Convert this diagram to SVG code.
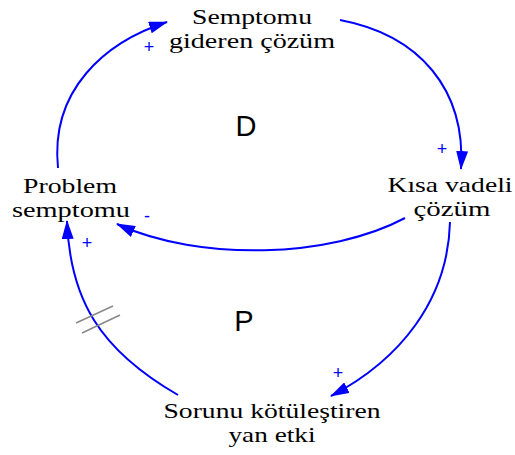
<svg xmlns="http://www.w3.org/2000/svg" width="515" height="455" viewBox="0 0 515 455">
<style>
.lbl{font-family:"Liberation Serif","Times New Roman",serif;font-size:21px;fill:#000;text-anchor:middle}
.loop{font-family:"Liberation Sans",Arial,sans-serif;font-size:29px;fill:#000;text-anchor:middle}
.pol{font-family:"Liberation Sans",Arial,sans-serif;font-size:18px;fill:#0000ff;text-anchor:middle}
.link{fill:none;stroke:#0000ff;stroke-width:2;marker-end:url(#ah)}
.delay{stroke:#888;stroke-width:1.5}
</style>
<defs>
<marker id="ah" markerWidth="20" markerHeight="12" refX="18" refY="6" orient="auto" markerUnits="userSpaceOnUse">
<path d="M0,0 L19,6 L0,12 Z" fill="#0000ff"/>
</marker>
</defs>
<rect width="515" height="455" fill="#fff"/>
<g id="n1"><text class="lbl" x="252" y="24" textLength="120" lengthAdjust="spacingAndGlyphs">Semptomu</text><text class="lbl" x="252" y="48" textLength="166" lengthAdjust="spacingAndGlyphs">gideren çözüm</text></g>
<g id="n2"><text class="lbl" x="450" y="192" textLength="125" lengthAdjust="spacingAndGlyphs">Kısa vadeli</text><text class="lbl" x="452" y="216" textLength="77" lengthAdjust="spacingAndGlyphs">çözüm</text></g>
<g id="n3"><text class="lbl" x="70" y="193" textLength="94" lengthAdjust="spacingAndGlyphs">Problem</text><text class="lbl" x="71" y="217" textLength="118" lengthAdjust="spacingAndGlyphs">semptomu</text></g>
<g id="n4"><text class="lbl" x="272" y="418" textLength="217" lengthAdjust="spacingAndGlyphs">Sorunu kötüleştiren</text><text class="lbl" x="272" y="442" textLength="87" lengthAdjust="spacingAndGlyphs">yan etki</text></g>
<g id="loops"><text class="loop" x="246" y="136">D</text><text class="loop" x="244" y="331">P</text></g>
<g id="connectors">
<path class="link" d="M58,168 C50,90 105,42 167,22"/>
<path class="link" d="M340,20 C420,35 466,90 461,169"/>
<path class="link" d="M405,218 C330,258 200,262 117,224"/>
<path class="link" d="M450,222 C448,300 400,360 331,396"/>
<path class="link" d="M178,395 C100,350 70,300 67,221"/>
<line class="delay" x1="76" y1="323" x2="113" y2="306"/>
<line class="delay" x1="82" y1="333" x2="120" y2="315"/>
<text class="pol" x="149" y="53">+</text>
<text class="pol" x="442" y="155">+</text>
<text class="pol" x="87" y="249">+</text>
<text class="pol" x="338" y="379">+</text>
<text class="pol" x="147" y="222">-</text>
</g>
</svg>
